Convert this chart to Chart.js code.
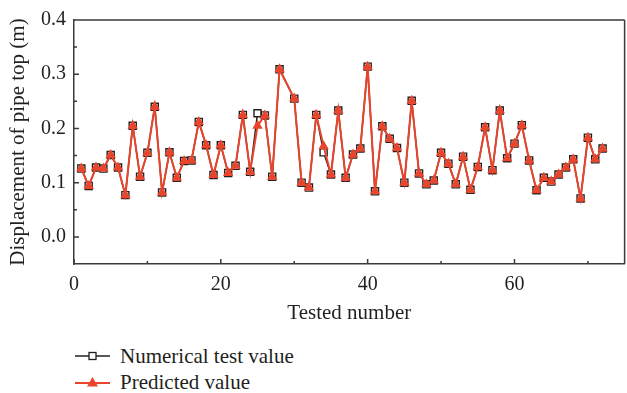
<!DOCTYPE html>
<html>
<head>
<meta charset="utf-8">
<script src="https://cdn.jsdelivr.net/npm/chart.js@4/dist/chart.umd.min.js"></script>
<style>
  html, body { margin: 0; padding: 0; background: #fff; overflow: hidden; width: 627px; height: 393px; }
  #wrap { position: relative; width: 627px; height: 393px; overflow: hidden; }
  canvas { position: absolute; left: 0; top: 0; }
  .leg { position: absolute; left: 75px; height: 24px; display: flex; align-items: center;
         font-family: "Liberation Serif", "DejaVu Serif", serif; font-size: 21px; color: #231f20; }
  .leg svg { margin-right: 10px; }
</style>
</head>
<body>
<div id="wrap">
  <canvas id="c" width="631" height="330"></canvas>
  <div class="leg" style="top:344px;">
    <svg width="35" height="12"><line x1="0" y1="6" x2="35" y2="6" stroke="#231f20" stroke-width="1.5"/><rect x="14" y="2.5" width="7" height="7" fill="#fff" stroke="#231f20" stroke-width="1.3"/></svg>
    <span>Numerical test value</span>
  </div>
  <div class="leg" style="top:370px;">
    <svg width="35" height="12"><line x1="0" y1="7" x2="35" y2="7" stroke="#e8452c" stroke-width="2"/><polygon points="17.5,1 23,10.5 12,10.5" fill="#e8452c"/></svg>
    <span>Predicted value</span>
  </div>
</div>
<script>
const testedNumbers = [1,2,3,4,5,6,7,8,9,10,11,12,13,14,15,16,17,18,19,20,21,22,23,24,25,26,27,28,
  30,31,32,33,34,35,36,37,38,39,40,41,42,43,44,45,46,47,48,49,50,51,52,53,54,55,56,57,58,59,60,
  61,62,63,64,65,66,67,68,69,70,71,72];
const numericalValues = [0.126,0.094,0.128,0.126,0.151,0.128,0.077,0.205,0.111,0.155,0.240,0.082,0.156,0.109,
  0.140,0.141,0.212,0.169,0.114,0.169,0.118,0.131,0.225,0.120,0.228,0.224,0.111,0.309,
  0.255,0.100,0.091,0.225,0.156,0.115,0.233,0.109,0.152,0.163,0.314,0.084,0.204,0.181,0.164,0.100,
  0.251,0.117,0.097,0.104,0.155,0.135,0.097,0.148,0.087,0.129,0.202,0.123,0.233,0.145,0.172,0.206,
  0.141,0.086,0.109,0.102,0.115,0.128,0.143,0.071,0.183,0.143,0.163];
const predictedValues = [0.126,0.094,0.128,0.126,0.151,0.128,0.077,0.205,0.111,0.155,0.240,0.082,0.156,0.109,
  0.140,0.141,0.212,0.169,0.114,0.169,0.118,0.131,0.225,0.120,0.205,0.224,0.111,0.309,
  0.255,0.100,0.091,0.225,0.167,0.115,0.233,0.109,0.152,0.163,0.314,0.084,0.204,0.181,0.164,0.100,
  0.251,0.117,0.097,0.104,0.155,0.135,0.097,0.148,0.087,0.129,0.202,0.123,0.233,0.145,0.172,0.206,
  0.141,0.086,0.109,0.102,0.115,0.128,0.143,0.071,0.183,0.143,0.163];
const xTicks = [0, 20, 40, 60];
const xMinorTicks = [10, 30, 50, 70];
const yTicks = [0.0, 0.1, 0.2, 0.3, 0.4];
const yMinorTicks = [0.05, 0.15, 0.25, 0.35];

const AXIS = '#3a3a3a';
const RED = '#e8452c';
const FONT = '"Liberation Serif", "DejaVu Serif", serif';

const frameTicks = {
  id: 'frameTicks',
  afterDraw(chart) {
    const {ctx, chartArea: a, scales: {x, y}} = chart;
    ctx.save();
    ctx.strokeStyle = AXIS;
    ctx.lineWidth = 1.5;
    ctx.beginPath();
    ctx.moveTo(a.left, a.top); ctx.lineTo(a.right, a.top);
    ctx.moveTo(a.right, a.top); ctx.lineTo(a.right, a.bottom);
    yTicks.forEach(v => { const p = y.getPixelForValue(v); ctx.moveTo(a.left, p); ctx.lineTo(a.left + 5, p); });
    yMinorTicks.forEach(v => { const p = y.getPixelForValue(v); ctx.moveTo(a.left, p); ctx.lineTo(a.left + 3, p); });
    xTicks.forEach(v => { const p = x.getPixelForValue(v); ctx.moveTo(p, a.bottom); ctx.lineTo(p, a.bottom - 5); });
    xMinorTicks.forEach(v => { const p = x.getPixelForValue(v); ctx.moveTo(p, a.bottom); ctx.lineTo(p, a.bottom - 3); });
    ctx.stroke();
    ctx.restore();
  }
};

new Chart(document.getElementById('c'), {
  type: 'line',
  data: {
    datasets: [
      {
        label: 'Numerical test value',
        data: testedNumbers.map((n, i) => ({x: n, y: numericalValues[i]})),
        borderColor: '#231f20', borderWidth: 1.5,
        pointStyle: 'rect', pointRadius: 5, pointBorderWidth: 1.4,
        pointBackgroundColor: '#ffffff', pointBorderColor: '#231f20',
        tension: 0, order: 2
      },
      {
        label: 'Predicted value',
        data: testedNumbers.map((n, i) => ({x: n, y: predictedValues[i]})),
        borderColor: RED, borderWidth: 2,
        pointStyle: 'triangle', pointRadius: 6, pointBorderWidth: 0,
        pointBackgroundColor: RED, pointBorderColor: RED,
        tension: 0, order: 1
      }
    ]
  },
  options: {
    responsive: false, animation: false,
    layout: { padding: { top: 18, left: 0, right: 0, bottom: 0 } },
    plugins: { legend: { display: false }, tooltip: { enabled: false } },
    scales: {
      x: {
        type: 'linear', min: 0, max: 75,
        afterFit(s) { s.height = 66; },
        afterBuildTicks(s) { s.ticks = xTicks.map(v => ({value: v})); },
        grid: { display: false, drawTicks: false },
        border: { display: true, color: AXIS, width: 1.5 },
        ticks: { padding: 9, color: '#231f20', font: { family: FONT, size: 20 }, maxRotation: 0,
                 callback: v => String(v) },
        title: { display: true, text: 'Tested number', color: '#231f20',
                 font: { family: FONT, size: 21 }, padding: { top: 0, bottom: 4 } }
      },
      y: {
        min: -0.05, max: 0.4,
        afterFit(s) { s.width = 74; },
        afterBuildTicks(s) { s.ticks = yTicks.map(v => ({value: v})); },
        grid: { display: false, drawTicks: false },
        border: { display: true, color: AXIS, width: 1.5 },
        ticks: { padding: 8, color: '#231f20', font: { family: FONT, size: 20 },
                 callback: v => Number(v).toFixed(1) },
        title: { display: true, text: 'Displacement of pipe top (m)', color: '#231f20',
                 font: { family: FONT, size: 21 }, padding: { top: 6, bottom: 0 } }
      }
    }
  },
  plugins: [frameTicks]
});
</script>
</body>
</html>
